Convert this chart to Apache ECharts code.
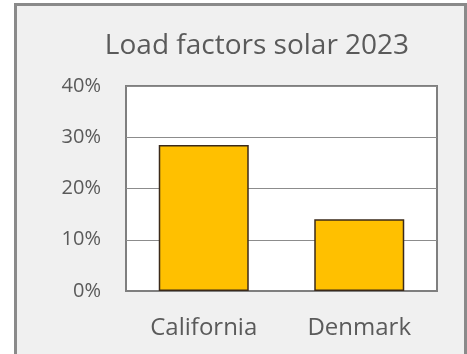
<!DOCTYPE html>
<html>
<head>
<meta charset="utf-8">
<style>
  html, body { margin: 0; padding: 0; background: #ffffff; }
  #chart { width: 467px; height: 354px; }
</style>
<script src="https://cdn.jsdelivr.net/npm/echarts@6/dist/echarts.min.js"></script>
</head>
<body>
<div id="chart"></div>
<script>
// Solar load factors by region, 2023
const regions = ['California', 'Denmark'];
const loadFactors = [0.285, 0.14];
const yTicks = { min: 0, max: 0.4, step: 0.1 };

const chart = echarts.init(document.getElementById('chart'), null, { renderer: 'canvas' });
const fontFamily = '"Open Sans", "Noto Sans", sans-serif';

chart.setOption({
  backgroundColor: '#ffffff',
  animation: false,
  graphic: [{
    type: 'rect',
    z: -10,
    shape: { x: 15.5, y: 4.5, width: 450, height: 370 },
    style: { fill: '#f0f0f0', stroke: '#8a8a8a', lineWidth: 3 }
  }],
  title: {
    text: 'Load factors solar 2023',
    left: 252,
    textAlign: 'center',
    top: 27,
    textStyle: { fontFamily, fontSize: 28, fontWeight: 'normal', color: '#5a5a5a' }
  },
  grid: {
    left: 126, right: 30, top: 86, bottom: 63,
    show: true, backgroundColor: '#ffffff',
    borderColor: '#7f7f7f', borderWidth: 2
  },
  xAxis: {
    type: 'category',
    data: regions,
    axisTick: { show: false },
    axisLine: { lineStyle: { color: '#7f7f7f', width: 2 } },
    axisLabel: { fontFamily, fontSize: 24, color: '#5a5a5a', margin: 25 }
  },
  yAxis: {
    type: 'value',
    min: yTicks.min, max: yTicks.max, interval: yTicks.step,
    axisLine: { show: false },
    axisTick: { show: false },
    splitLine: { lineStyle: { color: '#8c8c8c', width: 1.2 } },
    axisLabel: {
      fontFamily, fontSize: 20, color: '#5a5a5a', margin: 25,
      formatter: v => Math.round(v * 100) + '%'
    }
  },
  series: [{
    type: 'bar',
    data: loadFactors,
    barWidth: 90,
    itemStyle: { color: '#ffc000', borderColor: '#3b2a1a', borderWidth: 1.5 }
  }]
});
</script>
</body>
</html>
